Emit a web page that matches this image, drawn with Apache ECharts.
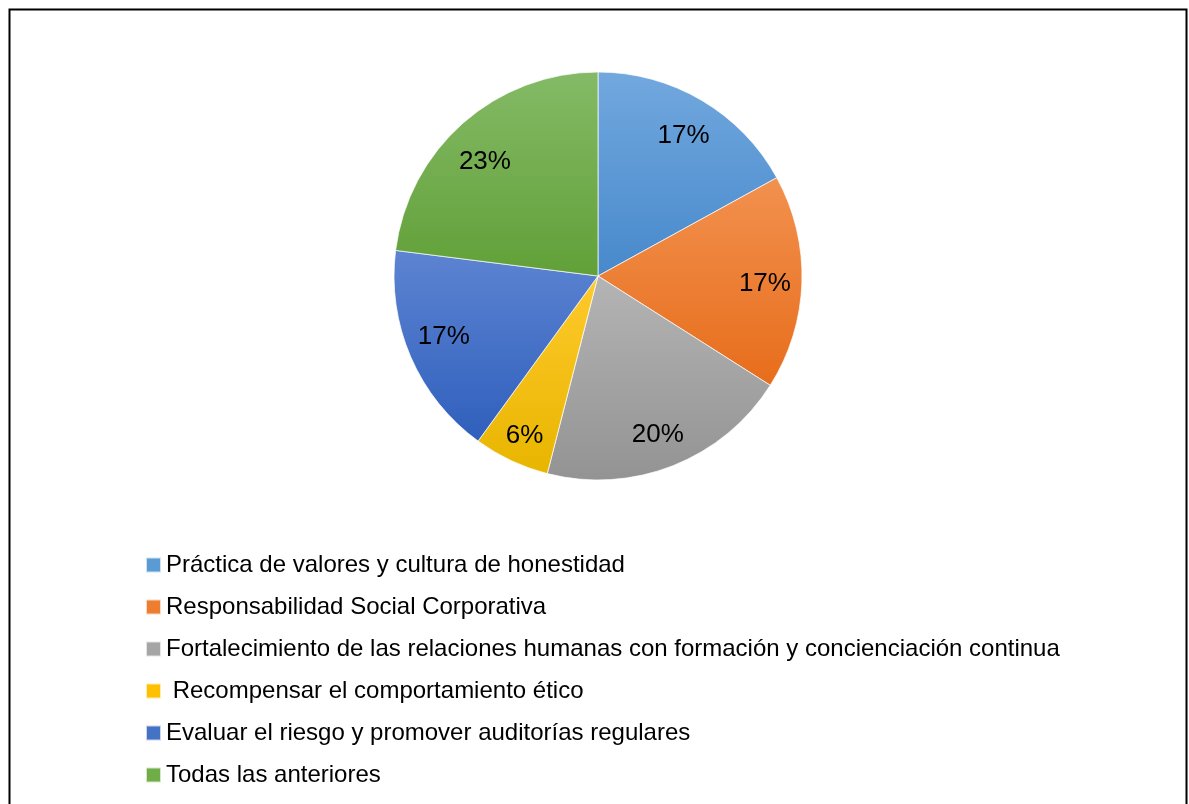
<!DOCTYPE html>
<html>
<head>
<meta charset="utf-8">
<script src="https://cdn.jsdelivr.net/npm/echarts@6/dist/echarts.min.js"></script>
<style>
html,body{margin:0;padding:0;background:#fff;}
#c{width:1189px;height:804px;}
</style>
</head>
<body>
<div id="c"></div>
<script>
const categories = [
  'Práctica de valores y cultura de honestidad',
  'Responsabilidad Social Corporativa',
  'Fortalecimiento de las relaciones humanas con formación y concienciación continua',
  ' Recompensar el comportamiento ético',
  'Evaluar el riesgo y promover auditorías regulares',
  'Todas las anteriores'
];
const percentages = [17, 17, 20, 6, 17, 23];
const topColors = ['#72A8DE', '#F2914F', '#B4B4B4', '#FFCA2C', '#5D84D2', '#84BA66'];
const bottomColors = ['#4789CC', '#E76D1B', '#939393', '#E8B500', '#2F5FBC', '#61A038'];
const legendColors = ['#5B9BD5', '#ED7D31', '#A5A5A5', '#FFC000', '#4472C4', '#70AD47'];
// small per-label nudges (pixels) mimicking the spreadsheet's "best fit" placement
const labelNudges = [[0, 4], [-1, 3], [-2, 3], [-2, 8], [0, -6], [-2, 12]];

const FONT = 'Arial, "Liberation Sans", sans-serif';

function grad(i) {
  return new echarts.graphic.LinearGradient(0, 0, 0, 1, [
    { offset: 0, color: topColors[i] },
    { offset: 1, color: bottomColors[i] }
  ]);
}

const pieData = categories.map((name, i) => ({
  name: name,
  value: percentages[i],
  itemStyle: { color: grad(i) }
}));
const labelData = categories.map((name, i) => ({
  name: name,
  value: percentages[i],
  label: { offset: labelNudges[i] }
}));

const chart = echarts.init(document.getElementById('c'), null, { renderer: 'canvas' });
chart.setOption({
  backgroundColor: '#ffffff',
  animation: false,
  color: legendColors,
  graphic: [{
    type: 'rect',
    shape: { x: 9.5, y: 9.5, width: 1177, height: 820 },
    style: { fill: 'none', stroke: '#000', lineWidth: 2 },
    silent: true,
    z: 100
  }],
  legend: {
    orient: 'vertical',
    left: 140,
    top: 548,
    itemWidth: 15,
    itemHeight: 15,
    itemGap: 18,
    icon: 'rect',
    data: categories.map((n, i) => ({ name: n, itemStyle: { color: legendColors[i] } })),
    textStyle: { fontFamily: FONT, fontSize: 24, color: '#000', padding: [0, 0, 0, 0] }
  },
  series: [
    {
      type: 'pie',
      name: 'base',
      center: [598, 276],
      radius: [0, 204],
      startAngle: 90,
      clockwise: true,
      label: { show: false },
      labelLine: { show: false },
      itemStyle: { borderColor: 'rgba(255,255,255,0.7)', borderWidth: 1 },
      emphasis: { disabled: true },
      data: pieData
    },
    {
      type: 'pie',
      name: 'labels',
      center: [598, 276],
      radius: [126, 204],
      startAngle: 90,
      clockwise: true,
      silent: true,
      legendHoverLink: false,
      itemStyle: { color: 'rgba(0,0,0,0)', borderWidth: 0 },
      label: {
        show: true,
        position: 'inside',
        formatter: '{c}%',
        fontFamily: FONT,
        fontSize: 26,
        color: '#000'
      },
      labelLine: { show: false },
      emphasis: { disabled: true },
      data: labelData
    }
  ]
});
</script>
</body>
</html>
